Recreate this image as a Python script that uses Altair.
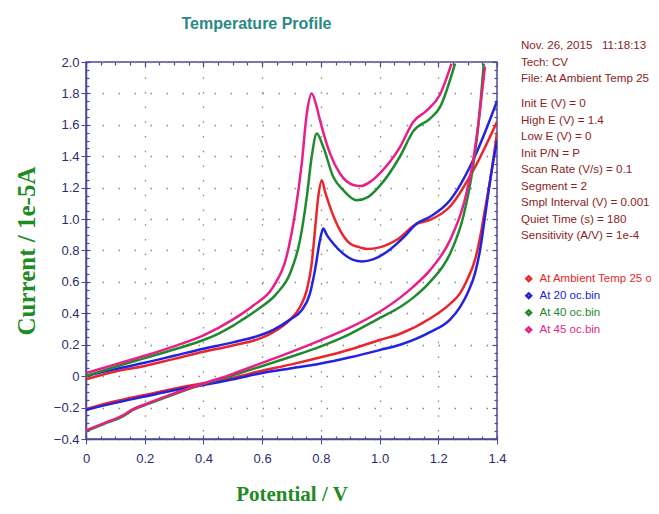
import altair as alt
import pandas as pd

series_names = ["At Ambient Temp 25 o", "At 20 oc.bin", "At 40 oc.bin", "At 45 oc.bin"]
series_colors = ["#e8262c", "#2222e0", "#1f8a2e", "#ea1f86"]

# Ambient (red): forward branch (upper) and return branch (lower)
red_up_V = [0.0, 0.1, 0.2, 0.3, 0.4, 0.5, 0.6, 0.638, 0.695, 0.729, 0.752, 0.769, 0.78, 0.791, 0.803, 0.815, 0.831, 0.865, 0.899, 0.933, 0.956, 1.0, 1.06, 1.126, 1.172, 1.24, 1.319, 1.40]
red_up_I = [-0.02, 0.03, 0.065, 0.11, 0.155, 0.195, 0.245, 0.28, 0.36, 0.44, 0.548, 0.72, 0.93, 1.14, 1.248, 1.17, 1.078, 0.93, 0.845, 0.82, 0.81, 0.82, 0.87, 0.97, 0.995, 1.08, 1.31, 1.62]
red_lo_V = [0.0, 0.1, 0.2, 0.3, 0.4, 0.5, 0.6, 0.7, 0.8, 0.9, 1.0, 1.07, 1.172, 1.24, 1.274, 1.30, 1.325, 1.342, 1.359, 1.382, 1.40]
red_lo_I = [-0.21, -0.16, -0.12, -0.08, -0.045, -0.01, 0.035, 0.075, 0.12, 0.17, 0.23, 0.27, 0.367, 0.46, 0.527, 0.62, 0.74, 0.88, 1.06, 1.31, 1.55]

# 20 C (blue)
blue_up_V = [0.0, 0.1, 0.2, 0.3, 0.4, 0.5, 0.6, 0.638, 0.695, 0.735, 0.763, 0.78, 0.797, 0.808, 0.82, 0.842, 0.876, 0.91, 0.94, 0.98, 1.024, 1.08, 1.126, 1.172, 1.24, 1.319, 1.40]
blue_up_I = [0.0, 0.045, 0.085, 0.13, 0.175, 0.215, 0.265, 0.295, 0.36, 0.42, 0.527, 0.675, 0.866, 0.94, 0.90, 0.845, 0.78, 0.74, 0.73, 0.745, 0.79, 0.88, 0.97, 1.015, 1.12, 1.376, 1.75]
blue_lo_V = [0.0, 0.1, 0.2, 0.3, 0.4, 0.5, 0.6, 0.7, 0.8, 0.9, 1.0, 1.07, 1.172, 1.24, 1.274, 1.30, 1.325, 1.342, 1.359, 1.382, 1.40]
blue_lo_I = [-0.215, -0.17, -0.13, -0.09, -0.057, -0.02, 0.02, 0.05, 0.08, 0.12, 0.166, 0.20, 0.28, 0.36, 0.44, 0.53, 0.654, 0.80, 1.015, 1.31, 1.50]

# 40 C (green)
green_up_V = [0.0, 0.1, 0.2, 0.3, 0.4, 0.45, 0.5, 0.525, 0.581, 0.65, 0.695, 0.729, 0.752, 0.769, 0.786, 0.808, 0.842, 0.876, 0.922, 0.96, 1.0, 1.07, 1.115, 1.172, 1.205, 1.257]
green_up_I = [0.0, 0.06, 0.115, 0.17, 0.23, 0.27, 0.32, 0.35, 0.42, 0.527, 0.654, 0.866, 1.14, 1.40, 1.545, 1.46, 1.27, 1.185, 1.12, 1.14, 1.21, 1.40, 1.56, 1.64, 1.71, 1.99]
green_lo_V = [0.0, 0.06, 0.127, 0.16, 0.207, 0.3, 0.4, 0.5, 0.593, 0.7, 0.8, 0.9, 1.0, 1.07, 1.115, 1.172, 1.24, 1.285, 1.313, 1.336, 1.355]
green_lo_I = [-0.35, -0.305, -0.255, -0.215, -0.18, -0.115, -0.05, 0.005, 0.06, 0.125, 0.19, 0.27, 0.37, 0.44, 0.50, 0.60, 0.78, 1.015, 1.27, 1.59, 1.99]

# 45 C (pink)
pink_up_V = [0.0, 0.1, 0.2, 0.3, 0.4, 0.5, 0.525, 0.57, 0.638, 0.683, 0.712, 0.735, 0.752, 0.769, 0.785, 0.797, 0.831, 0.865, 0.91, 0.935, 0.97, 1.0, 1.07, 1.115, 1.16, 1.205, 1.245]
pink_up_I = [0.02, 0.075, 0.13, 0.19, 0.26, 0.36, 0.39, 0.45, 0.57, 0.76, 1.036, 1.355, 1.67, 1.80, 1.72, 1.63, 1.418, 1.29, 1.217, 1.21, 1.24, 1.29, 1.46, 1.62, 1.69, 1.79, 1.99]
pink_lo_V = [0.0, 0.06, 0.127, 0.16, 0.207, 0.3, 0.4, 0.5, 0.593, 0.7, 0.8, 0.9, 1.0, 1.07, 1.115, 1.172, 1.24, 1.29, 1.319, 1.342, 1.359]
pink_lo_I = [-0.345, -0.30, -0.248, -0.21, -0.175, -0.11, -0.047, 0.015, 0.08, 0.155, 0.23, 0.31, 0.41, 0.50, 0.57, 0.675, 0.866, 1.12, 1.376, 1.69, 1.97]

x_major = [0.0, 0.2, 0.4, 0.6, 0.8, 1.0, 1.2, 1.4]
x_minor = [0.05, 0.1, 0.15, 0.25, 0.3, 0.35, 0.45, 0.5, 0.55, 0.65, 0.7, 0.75, 0.85, 0.9, 0.95, 1.05, 1.1, 1.15, 1.25, 1.3, 1.35]
y_major = [-0.4, -0.2, 0.0, 0.2, 0.4, 0.6, 0.8, 1.0, 1.2, 1.4, 1.6, 1.8, 2.0]
y_minor = [-0.35, -0.3, -0.25, -0.15, -0.1, -0.05, 0.05, 0.1, 0.15, 0.25, 0.3, 0.35, 0.45, 0.5, 0.55,
           0.65, 0.7, 0.75, 0.85, 0.9, 0.95, 1.05, 1.1, 1.15, 1.25, 1.3, 1.35, 1.45, 1.5, 1.55,
           1.65, 1.7, 1.75, 1.85, 1.9, 1.95]

header_lines = ["Nov. 26, 2015\u00a0\u00a0\u00a011:18:13", "Tech: CV", "File: At Ambient Temp 25"]
param_lines = ["Init E (V) = 0", "High E (V) = 1.4", "Low E (V) = 0", "Init P/N = P",
               "Scan Rate (V/s) = 0.1", "Segment = 2", "Smpl Interval (V) = 0.001",
               "Quiet Time (s) = 180", "Sensitivity (A/V) = 1e-4"]

rows = []
def add(name, branch, xs, ys):
    for i, (x, y) in enumerate(zip(xs, ys)):
        rows.append({"series": name, "branch": branch, "i": i, "V": x, "I": y})

add(series_names[0], "up", red_up_V, red_up_I)
add(series_names[0], "lo", red_lo_V, red_lo_I)
add(series_names[1], "up", blue_up_V, blue_up_I)
add(series_names[1], "lo", blue_lo_V, blue_lo_I)
add(series_names[2], "up", green_up_V, green_up_I)
add(series_names[2], "lo", green_lo_V, green_lo_I)
add(series_names[3], "up", pink_up_V, pink_up_I)
add(series_names[3], "lo", pink_lo_V, pink_lo_I)
df = pd.DataFrame(rows)

W, H = 411, 377
AX = "#4a4a96"
LAB = "#2c2c6c"
SANS = "Liberation Sans, Arial, sans-serif"
SERIF = "Liberation Serif, Times New Roman, serif"
INFO = "#8b1c1c"

xs = alt.Scale(domain=[0, 1.4], nice=False, zero=False)
ys = alt.Scale(domain=[-0.4, 2.0], nice=False, zero=False)

lab_expr = "datum.value == 0 ? '0' : format(datum.value, '.1f')"

lines = alt.Chart(df).mark_line(strokeWidth=2.5, clip=True, interpolate="monotone").encode(
    x=alt.X("V:Q", scale=xs, axis=alt.Axis(
        values=x_major, labelExpr=lab_expr, labelFlush=False, title="Potential / V",
        titleFont=SERIF, titleFontSize=21, titleFontWeight="bold", titleColor="#1f8b24",
        titlePadding=18, labelFont=SANS, labelFontSize=13, labelColor=LAB,
        labelPadding=8, tickSize=5, tickColor=AX, domainColor=AX, domainWidth=1.5,
        grid=True, gridColor="#8a8a8a", gridDash=[1.5, 13.2], gridWidth=1.3)),
    y=alt.Y("I:Q", scale=ys, axis=alt.Axis(
        values=y_major, labelExpr=lab_expr, labelFlush=False, title="Current / 1e-5A",
        titleFont=SERIF, titleFontSize=25, titleFontWeight="bold", titleColor="#1f8b24",
        titlePadding=14, labelFont=SANS, labelFontSize=13, labelColor=LAB,
        labelPadding=2, tickSize=5, tickColor=AX, domainColor=AX, domainWidth=1.5,
        grid=True, gridColor="#8a8a8a", gridDash=[1.5, 14.5], gridWidth=1.3)),
    color=alt.Color("series:N", scale=alt.Scale(domain=series_names, range=series_colors),
                    legend=alt.Legend(
                        title=None, orient="none", legendX=437, legendY=211,
                        symbolType="diamond", symbolSize=22, symbolStrokeWidth=2.5,
                        labelFont=SANS, labelFontSize=11.5, labelOffset=5, rowPadding=1,
                        padding=0,
                        labelColor=alt.ExprRef("scale('color', datum.value)"))),
    detail="branch:N",
    order="i:Q",
)

def tick_layer(xvals, yvals, xorient, yorient, size):
    return alt.Chart(df).mark_point(opacity=0, size=1).encode(
        x=alt.X("V:Q", scale=xs, axis=alt.Axis(
            orient=xorient, offset=-H, values=xvals, labels=False, title=None, grid=False,
            domain=False, tickSize=size, tickColor=AX, tickWidth=1.2)),
        y=alt.Y("I:Q", scale=ys, axis=alt.Axis(
            orient=yorient, offset=-W, values=yvals, labels=False, title=None, grid=False,
            domain=False, tickSize=size, tickColor=AX, tickWidth=1.2)),
    )

t1 = tick_layer(x_major, y_major, "top", "right", 4)      # inward at bottom / left
t2 = tick_layer(x_minor, y_minor, "top", "right", 3)
t3 = tick_layer(x_major, y_major, "bottom", "left", 5)    # inward at top / right
t4 = tick_layer(x_minor, y_minor, "bottom", "left", 3)

head = alt.Chart(pd.DataFrame({"k": [0]})).mark_text(
    text=header_lines, align="left", baseline="middle", font=SANS, fontSize=11.6,
    color=INFO, lineHeight=16.5).encode(x=alt.value(435), y=alt.value(-16))
params = alt.Chart(pd.DataFrame({"k": [0]})).mark_text(
    text=param_lines, align="left", baseline="middle", font=SANS, fontSize=11.6,
    color=INFO, lineHeight=16.5).encode(x=alt.value(435), y=alt.value(42))

chart = alt.layer(lines, t1, t2, t3, t4, head, params).resolve_axis(
    x="independent", y="independent"
).properties(
    width=W, height=H,
    title=alt.TitleParams("Temperature Profile", anchor="middle", frame="group", dx=-35,
                          offset=-8, baseline="bottom", font=SANS, fontSize=16,
                          fontWeight="bold", color="#2a8a80"),
    autosize=alt.AutoSizeParams(type="none"),
    padding={"left": 78, "top": 54, "right": 154, "bottom": 67},
).configure_view(stroke=AX, strokeWidth=1.5)

chart.save("out.html", embed_options={"renderer": "svg", "actions": False})
